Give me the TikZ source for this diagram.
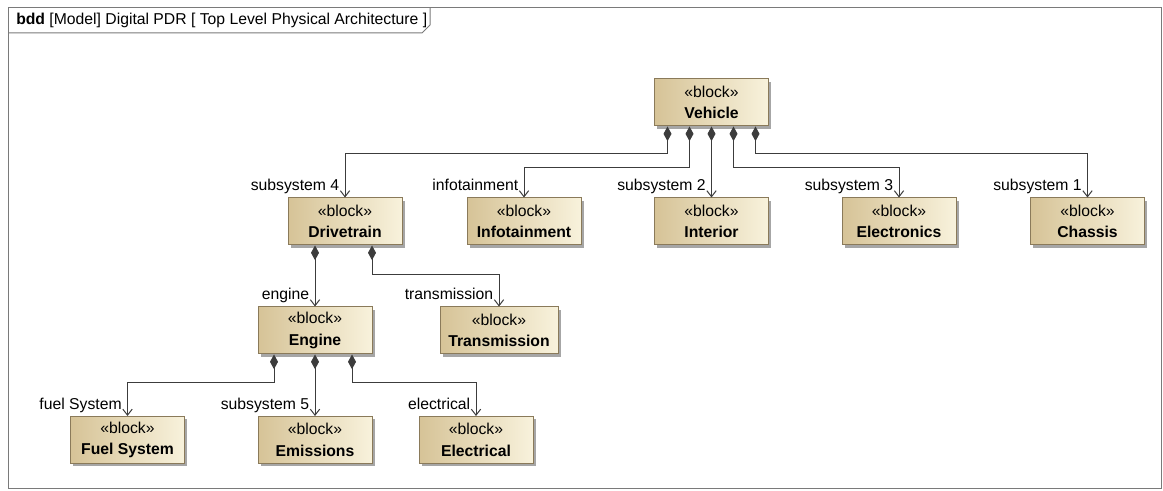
\documentclass[tikz,border=0pt]{standalone}
\usepackage{fontspec}
\setmainfont{Liberation Sans}
\usetikzlibrary{arrows.meta}
\usetikzlibrary{shadows}
\usetikzlibrary{calc}
\definecolor{blkdark}{HTML}{D6C397}
\definecolor{blklight}{HTML}{F8F2DC}
\definecolor{blkedge}{HTML}{8A7A5A}
\definecolor{linec}{HTML}{3C3C3C}
\definecolor{framec}{HTML}{7A7A7A}
\newcommand\txtfont{\fontsize{11.8}{16}\selectfont}

\begin{document}
\begin{tikzpicture}[x=0.75pt,y=-0.75pt,
    blk/.style={draw=blkedge, line width=0.75pt, left color=blkdark, right color=blklight,
      minimum width=85.5pt, minimum height=35.25pt, inner sep=1pt, align=center, font=\txtfont,
      drop shadow={shadow xshift=2.2pt, shadow yshift=-2.2pt, fill=black, opacity=0.35}},
    comp/.style={draw=linec, line width=0.75pt,
      {Diamond[length=11pt,width=6pt]}-{Straight Barb[length=4.5pt,width=7pt]}},
    lbl/.style={anchor=base east, inner sep=0pt, xshift=-4pt, yshift=5pt, font=\txtfont}]
    \useasboundingbox (0,0) rectangle (1163,491);
    \draw[framec, line width=0.75pt] (8,8) rectangle (1161,488);  %Rahmen
    \draw[framec, line width=0.75pt] (8,33) -- (422,33) -- (430,25) -- (430,8);  %Reiter
    \node[anchor=west, inner sep=0pt, font=\txtfont] (title) at (16,20.5)
      {\textbf{bdd} [Model] Digital PDR [ Top Level Physical Architecture ]};
    \node[blk] (veh) at (711.5,102.5) {«block»\\\textbf{Vehicle}};
    \foreach \nm/\txt/\x in  %Subsysteme
    {
      dt/Drivetrain/345,
      inf/Infotainment/524,
      int/Interior/711.5,
      elc/Electronics/899,
      chs/Chassis/1087.5
    }
    {
      \node[blk] (\nm) at (\x,221.5) {«block»\\\textbf{\txt}};
    };
    \node[blk] (eng) at (315,330.5) {«block»\\\textbf{Engine}};
    \node[blk, minimum width=88.5pt] (trm) at (499,330.5) {«block»\\\textbf{Transmission}};
    \node[blk] (fuel) at (127.5,440) {«block»\\\textbf{Fuel System}};
    \node[blk] (emi) at (315,440) {«block»\\\textbf{Emissions}};
    \node[blk] (ele) at (476,440) {«block»\\\textbf{Electrical}};
    % Vehicle
    \draw[comp] ($(veh.south)+(-44,0)$) -- ++(0,27) -| (dt.north) node[lbl] {subsystem 4};
    \draw[comp] ($(veh.south)+(-22,0)$) -- ++(0,41) -| (inf.north) node[lbl] {infotainment};
    \draw[comp] (int.north |- veh.south) -- (int.north) node[lbl] {subsystem 2};
    \draw[comp] ($(veh.south)+(22,0)$) -- ++(0,41) -| (elc.north) node[lbl] {subsystem 3};
    \draw[comp] ($(veh.south)+(44,0)$) -- ++(0,27) -| (chs.north) node[lbl] {subsystem 1};
    % Drivetrain
    \draw[comp] (eng.north |- dt.south) -- (eng.north) node[lbl] {engine};
    \draw[comp] ($(dt.south)+(27,0)$) -- ++(0,29) -| (trm.north) node[lbl] {transmission};
    % Engine
    \draw[comp] ($(eng.south)+(-41,0)$) -- ++(0,28) -| (fuel.north) node[lbl] {fuel System};
    \draw[comp] (emi.north |- eng.south) -- (emi.north) node[lbl] {subsystem 5};
    \draw[comp] ($(eng.south)+(37,0)$) -- ++(0,28) -| (ele.north) node[lbl] {electrical};
\end{tikzpicture}
\end{document}
